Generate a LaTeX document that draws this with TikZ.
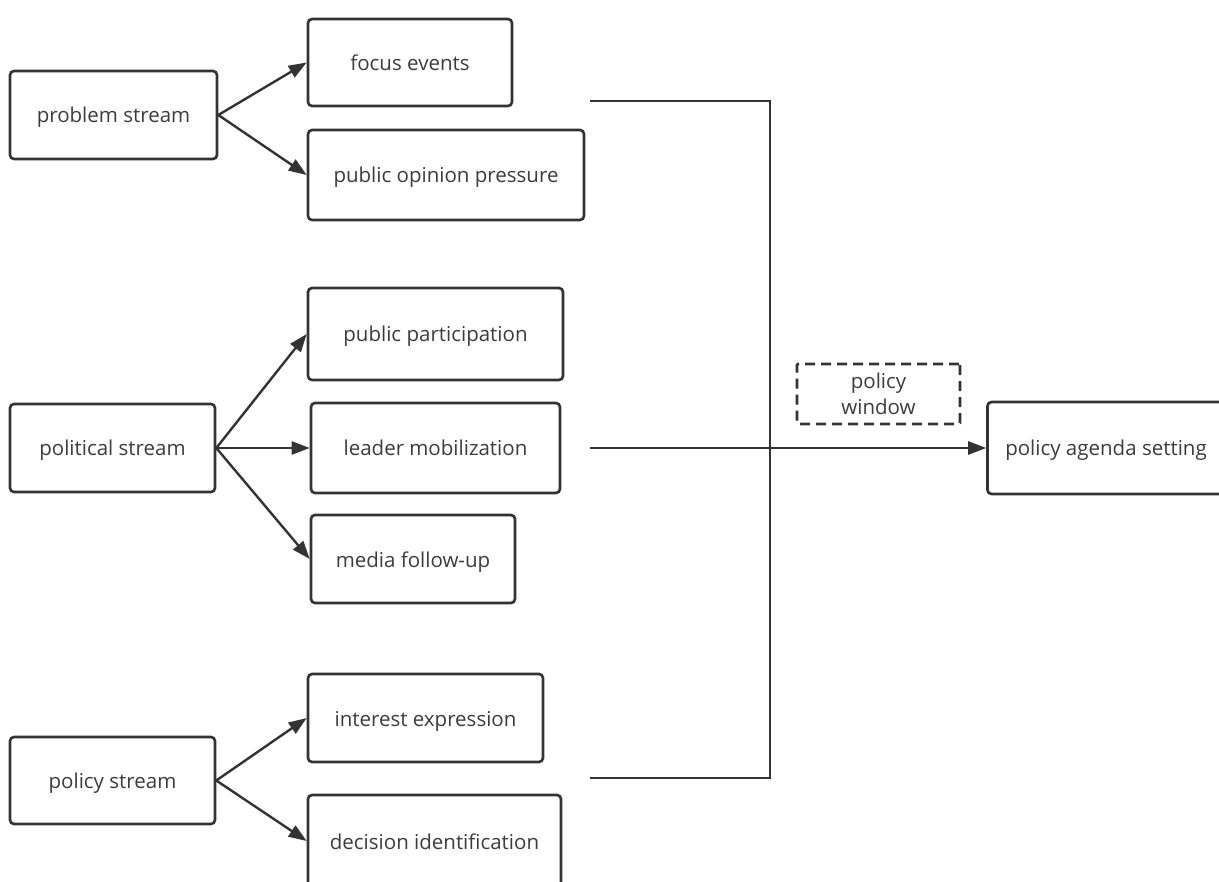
\documentclass[tikz,border=0pt]{standalone}
\usepackage{fontspec}
\setmainfont{Open Sans}
\usetikzlibrary{arrows.meta}
\definecolor{ink}{HTML}{333333}
\definecolor{txt}{HTML}{3C3C3C}
\begin{document}
\begin{tikzpicture}[x=1pt,y=-1pt,
  base/.style={draw=ink, line width=2.6pt, rounded corners=4pt, inner sep=0pt,
    text=txt, font=\fontsize{20.5}{24}\selectfont, align=center},
  box/.style={base, text height=16pt, text depth=0pt},
  wbox/.style={base, dash pattern=on 10pt off 6pt, rounded corners=1pt},
  conn/.style={draw=ink, line width=2.4pt},
  arr/.style={conn, -{Triangle[length=18pt,width=13pt]}}]
\useasboundingbox (0,0) rectangle (1219,882);
\clip (0,0) rectangle (1219,882);
\node[box, minimum width=207pt, minimum height=88pt] (ps)  at (113.5,115) {problem stream};
\node[box, minimum width=204pt, minimum height=87pt] (fe)  at (410,62.5) {focus events};
\node[box, minimum width=276pt, minimum height=90pt] (pop) at (446,175) {public opinion pressure};
\node[box, minimum width=255pt, minimum height=92pt] (pp)  at (435.5,334) {public participation};
\node[box, minimum width=205pt, minimum height=88pt] (pol) at (112.5,448) {political stream};
\node[box, minimum width=249pt, minimum height=90pt] (lm)  at (435.5,448) {leader mobilization};
\node[box, minimum width=204pt, minimum height=88pt] (mf)  at (413,559) {media follow-up};
\node[box, minimum width=235pt, minimum height=88pt] (ie)  at (425.5,718) {interest expression};
\node[box, minimum width=205pt, minimum height=87pt] (pst) at (112.5,780.5) {policy stream};
\node[box, minimum width=253pt, minimum height=92pt] (di)  at (434.5,841) {decision identification};
\node[wbox, minimum width=163pt, minimum height=60pt] (pw) at (878.5,394) {policy\\[2pt]window};
\node[box, minimum width=237pt, minimum height=92pt] (pas) at (1106,448) {policy agenda setting};

\draw[arr] (ps.east) -- (fe.west);
\draw[arr] (ps.east) -- (pop.west);
\draw[arr] (pol.east) -- (pp.west);
\draw[arr] (pol.east) -- (lm.west);
\draw[arr] (pol.east) -- (mf.west);
\draw[arr] (pst.east) -- (ie.west);
\draw[arr] (pst.east) -- (di.west);

\coordinate (t1) at (590,101);
\coordinate (t2) at (590,778);
\coordinate (tm) at (590,448);
\coordinate (j) at (770,101);
\draw[conn] (t1) -- (j) |- (t2);
\draw[arr] (tm) -- (pas.west);
\end{tikzpicture}
\end{document}
